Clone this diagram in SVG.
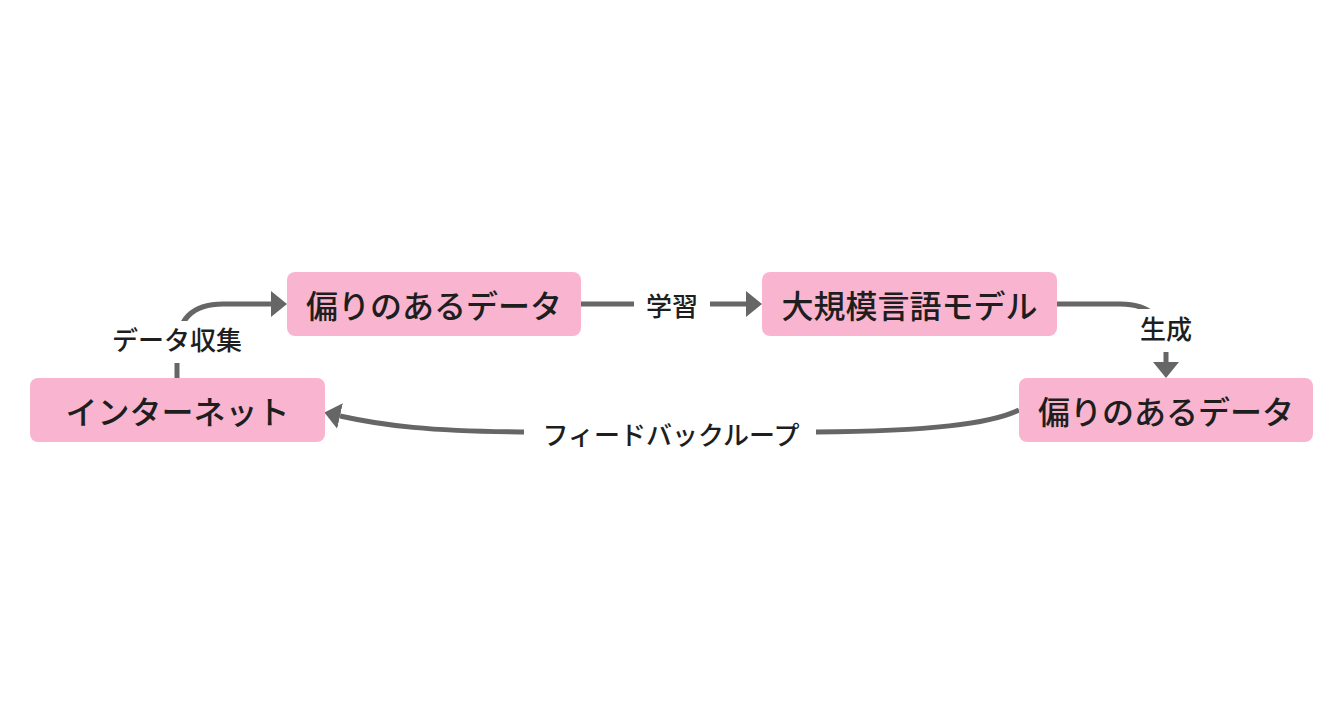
<svg xmlns="http://www.w3.org/2000/svg" width="1343" height="708" viewBox="0 0 1343 708">
<style>
.node rect{fill:#F9B5CF;}
.node text{font-family:"Noto Sans CJK JP","Noto Sans",sans-serif;font-size:32px;font-weight:500;fill:#1e1e1e;text-anchor:middle;dominant-baseline:central;}
.edge path{fill:none;stroke:#666;stroke-width:5;}
.lbl rect{fill:#fff;}
.lbl text{font-family:"Noto Sans CJK JP","Noto Sans",sans-serif;font-size:26px;font-weight:500;fill:#1e1e1e;text-anchor:middle;dominant-baseline:central;}
</style>
<defs>
<marker id="arr" markerUnits="userSpaceOnUse" viewBox="0 0 16 26" refX="0" refY="13" markerWidth="16" markerHeight="26" orient="auto">
<path d="M0,0 L16,13 L0,26 z" fill="#666"/>
</marker>
</defs>
<rect width="1343" height="708" fill="#fff"/>
<g id="connectors" class="edge">
<path d="M177,378 L177,350 Q177,304 223,304 L271,304" marker-end="url(#arr)"/>
<path d="M581,304 L746,304" marker-end="url(#arr)"/>
<path d="M1057,304 L1120,304 Q1166,304 1166,350 L1166,362" marker-end="url(#arr)"/>
<path d="M1019,410 C990,424 930,431 816,432 L520,432 C430,431 385,426 340,416" marker-end="url(#arr)"/>
</g>
<g id="labels" class="lbl">
<g id="label-collect"><rect x="104" y="321" width="146" height="42"/><text x="177" y="338">データ収集</text></g>
<g id="label-learn"><rect x="634" y="288" width="76" height="34"/><text x="672" y="304">学習</text></g>
<g id="label-gen"><rect x="1136" y="309" width="60" height="43"/><text x="1166" y="327">生成</text></g>
<g id="label-loop"><rect x="524" y="416" width="292" height="34"/><text x="671" y="433">フィードバックループ</text></g>
</g>
<g id="node-internet" class="node"><rect x="30" y="378" width="295" height="64" rx="8"/><text x="177.5" y="410">インターネット</text></g>
<g id="node-biased1" class="node"><rect x="287" y="272" width="294" height="64" rx="8"/><text x="434" y="304">偏りのあるデータ</text></g>
<g id="node-llm" class="node"><rect x="762" y="272" width="295" height="64" rx="8"/><text x="909.5" y="304">大規模言語モデル</text></g>
<g id="node-biased2" class="node"><rect x="1019" y="378" width="294" height="64" rx="8"/><text x="1166" y="410">偏りのあるデータ</text></g>
</svg>
